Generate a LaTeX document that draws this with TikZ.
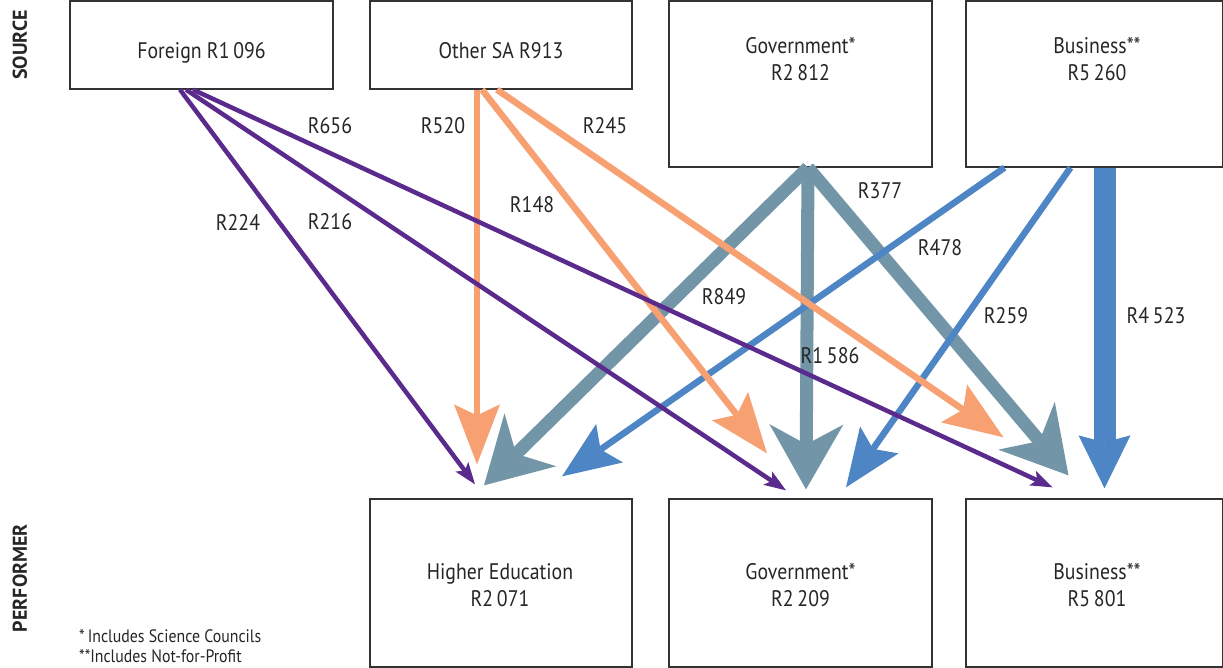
\documentclass[tikz,border=0pt]{standalone}
\usepackage{fontspec}
\setmainfont{PT Sans}[FakeStretch=0.88]
\newfontfamily\sidefont{PT Sans}
\usetikzlibrary{arrows.meta}
\definecolor{cpur}{HTML}{5A2A8C}
\definecolor{cora}{HTML}{F7A072}
\definecolor{cgry}{HTML}{7395A8}
\definecolor{cblu}{HTML}{4E86C5}
\definecolor{cbox}{HTML}{333333}
\begin{document}
\begin{tikzpicture}[x=1pt,y=-1pt,
  box/.style={draw=cbox, line width=1.3pt, inner sep=0pt},
  txt/.style={font=\fontsize{22.5}{26.5}\selectfont, text=black!85, align=center, inner sep=0pt},
  lbl/.style={font=\fontsize{22.5}{26.5}\selectfont, text=black!85, inner sep=0pt},
  side/.style={font=\sidefont\fontsize{20}{22}\selectfont\bfseries, text=black!85, rotate=90, inner sep=0pt},
  note/.style={font=\fontsize{18}{20}\selectfont, text=black!85, anchor=west, inner sep=0pt},
  purarrow/.style={draw=cpur, line width=4.5pt, -{Stealth[length=22pt,width=16pt,inset=5pt,line width=0pt]}},
  orarrow/.style={draw=cora, line width=6.5pt, -{Stealth[length=60pt,width=46pt,inset=11pt,line width=0pt]}},
  gyarrow/.style={draw=cgry, line width=13pt, -{Stealth[length=65pt,width=74pt,inset=20pt,line width=0pt]}},
  blarrow/.style={draw=cblu, line width=6.5pt, -{Stealth[length=58pt,width=47pt,inset=11pt,line width=0pt]}},
  blthick/.style={draw=cblu, line width=22pt, -{Stealth[length=53pt,width=52pt,inset=7pt,line width=0pt]}}
]
\useasboundingbox (0,0) rectangle (1223,667);
\clip (0,0) rectangle (1223,667);

% boxes
\node[box, minimum width=263pt, minimum height=88pt] (fo) at (201.5,45) {};
\node[box, minimum width=262pt, minimum height=88pt] (os) at (501,45) {};
\node[box, minimum width=263pt, minimum height=166pt] (gs) at (800.5,84) {};
\node[box, minimum width=257pt, minimum height=166pt] (bs) at (1094.5,84) {};
\node[box, minimum width=262pt, minimum height=168pt] (he) at (501,583) {};
\node[box, minimum width=263pt, minimum height=168pt] (gp) at (800.5,583) {};
\node[box, minimum width=257pt, minimum height=168pt] (bp) at (1094.5,583) {};

% box texts (base = baseline of last line)
\node[txt, anchor=base] (tfo) at (201.5,58) {Foreign R1\,096};
\node[txt, anchor=base] (tos) at (501,58) {Other SA R913};
\node[txt, anchor=base] (tgs) at (800.5,80) {Government*\\R2\,812};
\node[txt, anchor=base] (tbs) at (1097,80) {Business**\\R5\,260};
\node[txt, anchor=base] (the) at (500,606) {Higher Education\\R2\,071};
\node[txt, anchor=base] (tgp) at (800.5,606) {Government*\\R2\,209};
\node[txt, anchor=base] (tbp) at (1097,606) {Business**\\R5\,801};

% side labels and notes
\node[side] (src) at (20,45) {SOURCE};
\node[side] (perf) at (20,578) {PERFORMER};
\node[note] (n1) at (79,636) {*\,Includes Science Councils};
\node[note] (n2) at (79,656) {**Includes Not-for-Profit};

% gray (Government source)
\draw[gyarrow] ([shift={(7.5,0)}]gs.south) -- ([shift={(-17,-13)}]he.north);
\draw[gyarrow] ([shift={(7.5,0)}]gs.south) -- ([shift={(5.5,-9)}]gp.north);
\draw[gyarrow] ([shift={(7.5,0)}]gs.south) -- ([shift={(-26,-23)}]bp.north);

% blue (Business source)
\draw[blarrow] ([shift={(-90,0)}]bs.south) -- ([shift={(61,-22)}]he.north);
\draw[blarrow] ([shift={(-24,0)}]bs.south) -- ([shift={(45.5,-11)}]gp.north);
\draw[blthick] ([shift={(10,0)}]bs.south) -- ([shift={(10,-10)}]bp.north);

% orange (Other SA)
\draw[orarrow] ([shift={(-24,0)}]os.south) -- ([shift={(-24,-34)}]he.north);
\draw[orarrow] ([shift={(-19,0)}]os.south) -- ([shift={(-33.5,-45)}]gp.north);
\draw[orarrow] ([shift={(-4,0)}]os.south) -- ([shift={(-91,-61)}]bp.north);

% purple (Foreign)
\draw[purarrow] ([shift={(-21.5,0)}]fo.south) -- ([shift={(-26,-14)}]he.north);
\draw[purarrow] ([shift={(-15.5,0)}]fo.south) -- ([shift={(-14.5,-8)}]gp.north);
\draw[purarrow] ([shift={(-8.5,0)}]fo.south) -- ([shift={(-42,-11)}]bp.north);

% flow labels
\node[lbl] (l656) at (330,126) {R656};
\node[lbl] (l520) at (443,126) {R520};
\node[lbl] (l245) at (605,126) {R245};
\node[lbl] (l224) at (238,222) {R224};
\node[lbl] (l216) at (330,222) {R216};
\node[lbl] (l148) at (532,205) {R148};
\node[lbl] (l377) at (880,191) {R377};
\node[lbl] (l478) at (940,248) {R478};
\node[lbl] (l849) at (724,297) {R849};
\node[lbl] (l1586) at (830,356) {R1\,586};
\node[lbl] (l259) at (1006,316) {R259};
\node[lbl] (l4523) at (1156,316) {R4\,523};
\end{tikzpicture}
\end{document}
